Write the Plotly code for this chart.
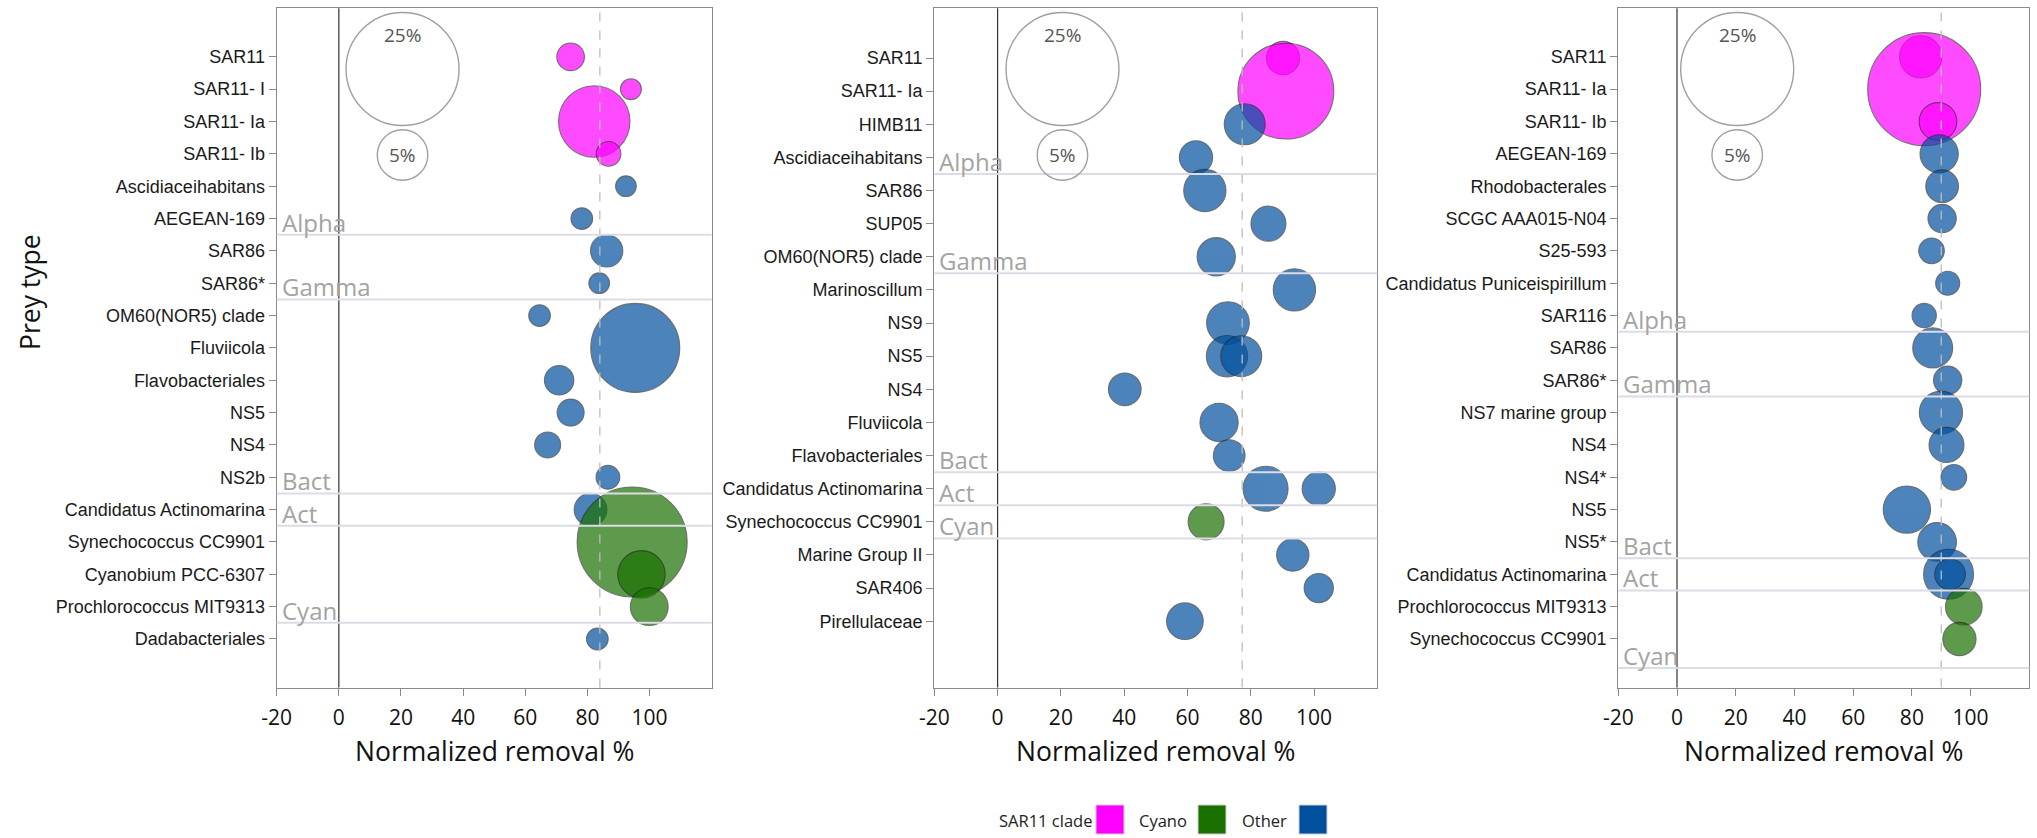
import numpy as np
import plotly.graph_objects as go

W, H = 2037, 838

# ---------------- Panel 1 ----------------
p1_taxa = ["SAR11", "SAR11- I", "SAR11- Ia", "SAR11- Ib", "Ascidiaceihabitans",
           "AEGEAN-169", "SAR86", "SAR86*", "OM60(NOR5) clade", "Fluviicola",
           "Flavobacteriales", "NS5", "NS4", "NS2b", "Candidatus Actinomarina",
           "Synechococcus CC9901", "Cyanobium PCC-6307", "Prochlorococcus MIT9313",
           "Dadabacteriales"]
p1_taxon = list(p1_taxa)
p1_removal = [74.6, 94.0, 82.2, 86.8, 92.4, 78.2, 86.2, 83.8, 64.6, 95.4,
              70.9, 74.6, 67.2, 86.6, 81.0, 94.4, 97.4, 99.9, 83.2]
p1_abund = [1.5, 0.86, 10.0, 1.2, 0.84, 0.92, 2.05, 0.84, 0.92, 15.5,
            1.7, 1.43, 1.32, 1.1, 2.1, 23.7, 4.4, 2.8, 0.92]
p1_clade = ["SAR11"] * 4 + ["Other"] * 11 + ["Cyano"] * 3 + ["Other"]
p1_group_names = ["Alpha", "Gamma", "Bact", "Act", "Cyan"]
p1_group_edges = [5.5, 7.5, 13.5, 14.5, 17.5]
p1_mean = 84.0

# ---------------- Panel 2 ----------------
p2_taxa = ["SAR11", "SAR11- Ia", "HIMB11", "Ascidiaceihabitans", "SAR86", "SUP05",
           "OM60(NOR5) clade", "Marinoscillum", "NS9", "NS5", "NS4", "Fluviicola",
           "Flavobacteriales", "Candidatus Actinomarina", "Synechococcus CC9901",
           "Marine Group II", "SAR406", "Pirellulaceae"]
p2_taxon = ["SAR11", "SAR11- Ia", "HIMB11", "Ascidiaceihabitans", "SAR86", "SUP05",
            "OM60(NOR5) clade", "Marinoscillum", "NS9", "NS5", "NS5", "NS4",
            "Fluviicola", "Flavobacteriales", "Candidatus Actinomarina",
            "Candidatus Actinomarina", "Synechococcus CC9901", "Marine Group II",
            "SAR406", "Pirellulaceae"]
p2_removal = [90.2, 91.1, 78.1, 62.7, 65.5, 85.6, 69.1, 93.8, 72.8, 72.5,
              77.0, 40.2, 70.0, 73.2, 84.7, 101.5, 65.9, 93.3, 101.5, 59.2]
p2_abund = [2.17, 18.0, 3.29, 2.17, 3.5, 2.4, 2.87, 3.5, 3.57, 3.34,
            3.29, 2.09, 2.87, 1.97, 3.96, 2.17, 2.54, 2.05, 1.68, 2.63]
p2_clade = ["SAR11"] * 2 + ["Other"] * 14 + ["Cyano"] + ["Other"] * 3
p2_group_names = ["Alpha", "Gamma", "Bact", "Act", "Cyan"]
p2_group_edges = [3.5, 6.5, 12.5, 13.5, 14.5]
p2_mean = 77.3

# ---------------- Panel 3 ----------------
p3_taxa = ["SAR11", "SAR11- Ia", "SAR11- Ib", "AEGEAN-169", "Rhodobacterales",
           "SCGC AAA015-N04", "S25-593", "Candidatus Puniceispirillum", "SAR116",
           "SAR86", "SAR86*", "NS7 marine group", "NS4", "NS4*", "NS5", "NS5*",
           "Candidatus Actinomarina", "Prochlorococcus MIT9313", "Synechococcus CC9901"]
p3_taxon = ["SAR11", "SAR11- Ia", "SAR11- Ib", "AEGEAN-169", "Rhodobacterales",
            "SCGC AAA015-N04", "S25-593", "Candidatus Puniceispirillum", "SAR116",
            "SAR86", "SAR86*", "NS7 marine group", "NS4", "NS4*", "NS5", "NS5*",
            "Candidatus Actinomarina", "Candidatus Actinomarina",
            "Prochlorococcus MIT9313", "Synechococcus CC9901"]
p3_removal = [83.0, 84.2, 88.9, 89.3, 90.3, 90.3, 86.7, 92.2, 84.2, 87.1,
              92.2, 89.9, 91.8, 94.3, 78.3, 88.6, 92.5, 93.0, 97.7, 96.2]
p3_abund = [3.5, 25.0, 2.78, 2.87, 2.09, 1.57, 1.29, 1.13, 1.16, 3.13,
            1.57, 3.67, 2.4, 1.29, 4.38, 2.93, 4.9, 1.84, 2.63, 2.17]
p3_clade = ["SAR11"] * 3 + ["Other"] * 15 + ["Cyano"] * 2
p3_group_names = ["Alpha", "Gamma", "Bact", "Act", "Cyan"]
p3_group_edges = [8.5, 10.5, 15.5, 16.5, 18.9]
p3_mean = 90.0

# x ticks (hyphen minus, as printed)
x_tickvals = [-20, 0, 20, 40, 60, 80, 100]
x_ticktext = ["-20", "0", "20", "40", "60", "80", "100"]

# size key (abundance %)
key_sizes = [25, 5]

clade_order = ["SAR11", "Other", "Cyano"]
clade_colors = {"SAR11": "#ff00ff", "Cyano": "#1a7000", "Other": "#00509e"}
legend_labels = {"SAR11": "SAR11 clade", "Cyano": "Cyano", "Other": "Other"}

# bubble diameter in px per sqrt(%)
PX_PER_SQRT = 22.6

panels = [
    dict(taxa=p1_taxa, taxon=p1_taxon, removal=p1_removal, abund=p1_abund,
         clade=p1_clade, gnames=p1_group_names, gedges=p1_group_edges,
         mean=p1_mean, xpx=(276.7, 711.7), ybottom=19.5),
    dict(taxa=p2_taxa, taxon=p2_taxon, removal=p2_removal, abund=p2_abund,
         clade=p2_clade, gnames=p2_group_names, gedges=p2_group_edges,
         mean=p2_mean, xpx=(934.3, 1377.3), ybottom=19.0),
    dict(taxa=p3_taxa, taxon=p3_taxon, removal=p3_removal, abund=p3_abund,
         clade=p3_clade, gnames=p3_group_names, gedges=p3_group_edges,
         mean=p3_mean, xpx=(1618.3, 2029.3), ybottom=19.5),
]

Y_TOP_PX, Y_BOT_PX = 8.3, 687.5
ydom = [1 - Y_BOT_PX / H, 1 - Y_TOP_PX / H]

fig = go.Figure()
shapes, annotations = [], []
axis_col = "#8a8a8a"
label_font = "Open Sans, Segoe UI, sans-serif"
tick_font = "Liberation Sans, Arial, sans-serif"

for i, p in enumerate(panels):
    sfx = "" if i == 0 else str(i + 1)
    xref, yref = "x" + sfx, "y" + sfx
    row_of = {t: k for k, t in enumerate(p["taxa"])}

    for cl in clade_order:
        idx = [k for k, c in enumerate(p["clade"]) if c == cl]
        if not idx:
            continue
        fig.add_trace(go.Scatter(
            x=[p["removal"][k] for k in idx],
            y=[row_of[p["taxon"][k]] for k in idx],
            mode="markers",
            marker=dict(size=[PX_PER_SQRT * np.sqrt(p["abund"][k]) for k in idx],
                        sizemode="diameter", color=clade_colors[cl], opacity=0.7,
                        line=dict(color="rgba(30,30,30,0.85)", width=1.1)),
            text=[p["taxon"][k] for k in idx],
            hovertemplate="%{text}<br>%{x:.1f}%<extra></extra>",
            xaxis=xref, yaxis=yref, showlegend=False,
        ))

    x0, x1 = p["xpx"]
    fig.layout["xaxis" + sfx] = dict(
        domain=[x0 / W, x1 / W], anchor=yref, range=[-20, 120], automargin=False,
        tickvals=x_tickvals, ticktext=x_ticktext, showgrid=False, zeroline=False,
        showline=True, mirror=True, linecolor=axis_col, linewidth=1.3,
        ticks="outside", ticklen=7, tickcolor=axis_col, tickwidth=1.3,
        tickfont=dict(family=label_font, size=21, color="#111"),
        ticklabelstandoff=4,
    )
    fig.layout["yaxis" + sfx] = dict(
        domain=ydom, anchor=xref, range=[p["ybottom"], -1.5], automargin=False,
        tickvals=list(range(len(p["taxa"]))), ticktext=p["taxa"],
        showgrid=False, zeroline=False, showline=True, mirror=True,
        linecolor=axis_col, linewidth=1.3, ticks="outside", ticklen=7,
        tickcolor=axis_col, tickwidth=1.3,
        tickfont=dict(family=tick_font, size=18, color="#1a1a1a"),
    )

    # zero line and mean removal line
    shapes.append(dict(type="line", xref=xref, yref=yref + " domain", x0=0, x1=0,
                       y0=0, y1=1, line=dict(color="#333333", width=1.2)))
    shapes.append(dict(type="line", xref=xref, yref=yref + " domain",
                       x0=p["mean"], x1=p["mean"], y0=0, y1=1,
                       line=dict(color="#bdbdbd", width=1.3, dash="dash")))

    # taxonomic group separators and labels
    for name, e in zip(p["gnames"], p["gedges"]):
        shapes.append(dict(type="line", xref=xref + " domain", yref=yref,
                           x0=0, x1=1, y0=e, y1=e,
                           line=dict(color="#dcdce6", width=2)))
        annotations.append(dict(text=name, xref=xref + " domain", yref=yref,
                                x=0, y=e, xanchor="left", yanchor="bottom",
                                xshift=3, yshift=-6, showarrow=False,
                                font=dict(family=label_font, size=24, color="#a3a3a3")))

    # bubble size key
    key_cy = [69.0, 155.0]
    key_text_y = [35.0, 154.5]
    for v, cy, ty in zip(key_sizes, key_cy, key_text_y):
        r = PX_PER_SQRT * np.sqrt(v) / 2
        shapes.append(dict(type="circle", xref=xref, yref="paper",
                           xsizemode="pixel", ysizemode="pixel",
                           xanchor=20.5, yanchor=1 - cy / H,
                           x0=-r, x1=r, y0=-r, y1=r,
                           line=dict(color="#a0a0a0", width=1.4)))
        annotations.append(dict(text=f"{v}%", xref=xref, yref="paper",
                                x=20.5, y=1 - ty / H, showarrow=False,
                                xanchor="center", yanchor="middle",
                                font=dict(family=label_font, size=19, color="#555")))

    # x-axis title
    annotations.append(dict(text="Normalized removal %", xref=xref + " domain",
                            yref="paper", x=0.5, y=1 - 751 / H, showarrow=False,
                            xanchor="center", yanchor="middle",
                            font=dict(family=label_font, size=26.5, color="#111")))

annotations.append(dict(text="Prey type", xref="paper", yref="paper",
                        x=30 / W, y=1 - 292 / H, textangle=-90, showarrow=False,
                        xanchor="center", yanchor="middle",
                        font=dict(family=label_font, size=26.5, color="#111")))

# clade colour key
key_items = [("SAR11", 1094, "right", (1096, 1124)),
             ("Cyano", 1137, "left", (1198, 1226)),
             ("Other", 1240, "left", (1299, 1327))]
for cl, tx, anchor, (sx0, sx1) in key_items:
    annotations.append(dict(text=legend_labels[cl], xref="paper", yref="paper",
                            x=tx / W, y=1 - 820 / H, xanchor=anchor, yanchor="middle",
                            showarrow=False,
                            font=dict(family=label_font, size=16.5, color="#222")))
    shapes.append(dict(type="rect", xref="paper", yref="paper",
                       x0=sx0 / W, x1=sx1 / W, y0=1 - 834 / H, y1=1 - 805 / H,
                       fillcolor=clade_colors[cl], line=dict(color="#d0d0d0", width=1)))

fig.update_layout(
    width=W, height=H, margin=dict(l=0, r=0, t=0, b=0, autoexpand=False),
    paper_bgcolor="white", plot_bgcolor="white",
    shapes=shapes, annotations=annotations, showlegend=False,
)

fig.write_html("out.html")
